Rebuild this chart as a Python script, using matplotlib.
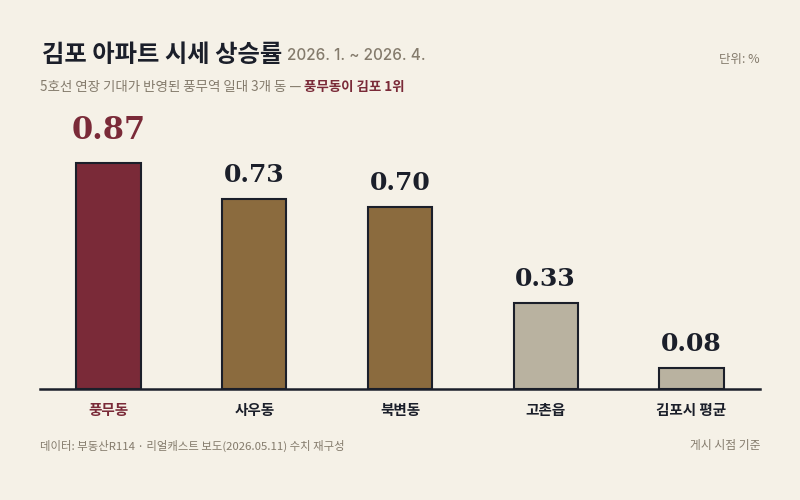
import matplotlib
matplotlib.use("Agg")
import matplotlib.pyplot as plt

plt.rcParams['font.family'] = ['Noto Sans CJK KR', 'DejaVu Sans']

# data
areas = ['풍무동', '사우동', '북변동', '고촌읍', '김포시 평균']
rates = [0.87, 0.73, 0.70, 0.33, 0.08]
highlight = '풍무동'

BG = '#F5F1E7'
MAROON = '#7A2A38'
BROWN = '#8B6B3E'
GREY_BAR = '#B9B2A0'
INK = '#1B1F2A'
MUTED = '#847B6C'

bar_colors = []
for name in areas:
    if name == highlight:
        bar_colors.append(MAROON)
    elif name in ('사우동', '북변동'):
        bar_colors.append(BROWN)
    else:
        bar_colors.append(GREY_BAR)

fig = plt.figure(figsize=(8, 5), dpi=100, facecolor=BG)
ax = fig.add_axes([0.05, 0.222, 0.90, 0.525])
ax.set_facecolor(BG)

x = range(len(areas))
bars = ax.bar(x, rates, width=0.44, color=bar_colors, edgecolor=INK, linewidth=1.5, zorder=2)

ax.set_xlim(-0.47, 4.47)
ax.set_ylim(0, 1.01)

for s in ['top', 'right', 'left']:
    ax.spines[s].set_visible(False)
ax.spines['bottom'].set_color(INK)
ax.spines['bottom'].set_linewidth(1.8)
ax.spines['bottom'].set_zorder(3)
ax.set_yticks([])
ax.set_xticks(list(x))
ax.set_xticklabels(areas, fontsize=10.5, fontweight='bold', color=INK)
ax.tick_params(axis='x', length=0, pad=9)
ax.get_xticklabels()[0].set_color(MAROON)

# value labels
for rect, name, v in zip(bars, areas, rates):
    big = name == highlight
    ax.annotate(f'{v:.2f}',
                xy=(rect.get_x() + rect.get_width() / 2, rect.get_height()),
                xytext=(0, 12 if big else 9), textcoords='offset points',
                ha='center', va='bottom',
                fontsize=22 if big else 18, fontweight='bold',
                family='DejaVu Serif',
                color=MAROON if big else INK)

# header
title = fig.text(0.052, 0.89, '김포 아파트 시세 상승률', fontsize=17.5, fontweight='black',
                 color=INK, va='center', ha='left')
ax.annotate('2026. 1. ~ 2026. 4.', xy=(1, 0), xycoords=title,
            xytext=(4, 3), textcoords='offset points',
            fontsize=11, color=MUTED, va='bottom', ha='left',
            family=['Inter', 'DejaVu Sans'], fontweight='medium',
            annotation_clip=False)

sub = fig.text(0.05, 0.826, '5호선 연장 기대가 반영된 풍무역 일대 3개 동 — ', fontsize=9.7,
               color=MUTED, va='center', ha='left')
ax.annotate('풍무동이 김포 1위', xy=(1, 0.5), xycoords=sub,
            xytext=(0, 0), textcoords='offset points',
            fontsize=9.7, fontweight='bold', color=MAROON, va='center', ha='left',
            annotation_clip=False)

fig.text(0.95, 0.882, '단위: %', fontsize=9, color=MUTED, ha='right', va='center')

# footer
fig.text(0.05, 0.108, '데이터: 부동산R114 · 리얼캐스트 보도(2026.05.11) 수치 재구성',
         fontsize=8.2, color=MUTED, ha='left', va='center')
fig.text(0.95, 0.108, '게시 시점 기준', fontsize=8.5, color=MUTED, ha='right', va='center')

fig.savefig('out.png', dpi=100, facecolor=BG)
